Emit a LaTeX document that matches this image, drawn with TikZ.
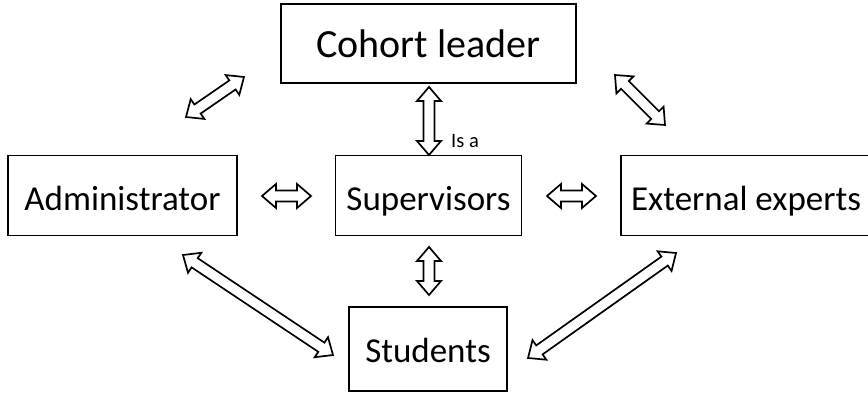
\documentclass[tikz,border=0pt]{standalone}
\usepackage{fontspec}
\setmainfont{Carlito}
\usetikzlibrary{calc}
\tikzset{
  box/.style={draw, line width=1.9pt, inner sep=0pt, align=center,
    text height=29pt, text depth=0pt,
    font=\fontsize{35}{42}\selectfont},
  barrow/.style={draw, line width=1.7pt, line join=miter, fill=white},
}
\newcommand\blockarrow[2]{%
  \coordinate (p1) at ($(#1)!14pt!(#2)$);
  \coordinate (p2) at ($(#2)!14pt!(#1)$);
  \draw[barrow] (#1)
    -- ($(p1)!12pt!90:(#2)$) -- ($(p1)!5.5pt!90:(#2)$)
    -- ($(p2)!5.5pt!-90:(#1)$) -- ($(p2)!12pt!-90:(#1)$)
    -- (#2)
    -- ($(p2)!12pt!90:(#1)$) -- ($(p2)!5.5pt!90:(#1)$)
    -- ($(p1)!5.5pt!-90:(#2)$) -- ($(p1)!12pt!-90:(#2)$)
    -- cycle;
}
\begin{document}
\begin{tikzpicture}[x=1pt, y=-1pt]
\useasboundingbox[fill=white] (0,0) rectangle (868,396);
\node[box, minimum width=295pt, minimum height=79pt, font=\fontsize{40}{48}\selectfont] (cohort) at (428.5,43.5) {Cohort leader};
\node[box, minimum width=229pt, minimum height=80pt] (admin) at (122.5,195.5) {Administrator};
\node[box, minimum width=186pt, minimum height=80pt] (sup) at (428.5,195.5) {Supervisors};
\node[box, minimum width=250pt, minimum height=80pt] (ext) at (746,195.5) {External experts};
\node[box, minimum width=158pt, minimum height=84pt, text height=26pt] (stud) at (428,349) {Students};
\coordinate (ca1) at (186,117); \coordinate (ca2) at (244,77);
\coordinate (cs1) at (429,87);  \coordinate (cs2) at (429,155);
\coordinate (ce1) at (615,75);  \coordinate (ce2) at (665,125);
\coordinate (as1) at (262,196); \coordinate (as2) at (311,196);
\coordinate (se1) at (547,196); \coordinate (se2) at (596,196);
\coordinate (ss1) at (429,247); \coordinate (ss2) at (429,295);
\coordinate (at1) at (183,255); \coordinate (at2) at (333,355);
\coordinate (et1) at (676,253); \coordinate (et2) at (528,358);
\blockarrow{ca1}{ca2}
\blockarrow{cs1}{cs2}
\blockarrow{ce1}{ce2}
\blockarrow{as1}{as2}
\blockarrow{se1}{se2}
\blockarrow{ss1}{ss2}
\blockarrow{at1}{at2}
\blockarrow{et1}{et2}
\node[anchor=base west, inner sep=0pt, font=\fontsize{20.5}{24}\selectfont] (isa) at (451,147) {Is a};
\end{tikzpicture}
\end{document}
